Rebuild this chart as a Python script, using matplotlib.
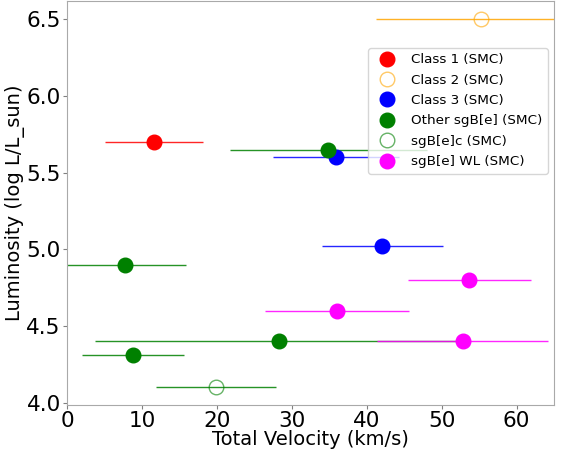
import matplotlib
matplotlib.use("Agg")
import matplotlib.pyplot as plt

# Data
class1_v = [11.6]; class1_l = [5.70]; class1_e = [6.5]
class2_v = [55.2]; class2_l = [6.50]; class2_e = [14.0]
class3_v = [35.9, 42.1]; class3_l = [5.60, 5.02]; class3_e = [8.4, 8.1]
other_v = [34.9, 7.7, 8.8, 28.3]; other_l = [5.65, 4.90, 4.31, 4.40]; other_e = [13.2, 8.2, 6.8, 24.6]
sgbc_v = [19.9]; sgbc_l = [4.10]; sgbc_e = [8.0]
wl_v = [53.7, 36.0, 52.8]; wl_l = [4.80, 4.60, 4.40]; wl_e = [8.2, 9.6, 11.4]

fig = plt.figure(figsize=(5.62, 4.49), dpi=100)
ax = fig.add_axes([67/562, 1-405/449, (554-67)/562, 404/449])

groups = [
    ("Class 1 (SMC)", class1_v, class1_l, class1_e, "red", True),
    ("Class 2 (SMC)", class2_v, class2_l, class2_e, "orange", False),
    ("Class 3 (SMC)", class3_v, class3_l, class3_e, "blue", True),
    ("Other sgB[e] (SMC)", other_v, other_l, other_e, "green", True),
    ("sgB[e]c (SMC)", sgbc_v, sgbc_l, sgbc_e, "green", False),
    ("sgB[e] WL (SMC)", wl_v, wl_l, wl_e, "magenta", True),
]

for label, v, l, e, c, filled in groups:
    ax.errorbar(v, l, xerr=e, fmt="none", ecolor=c, elinewidth=1.0, alpha=0.85, zorder=1)
    if filled:
        ax.plot(v, l, "o", color=c, markersize=10.5, linestyle="none", label=label, zorder=3)
    else:
        ax.plot(v, l, "o", markerfacecolor="none", markeredgecolor=c, markeredgewidth=1.0,
                alpha=0.6, markersize=10.5, linestyle="none", label=label, zorder=3)

ax.set_xlim(0, 65)
ax.set_ylim(3.985, 6.62)
ax.set_xticks([0, 10, 20, 30, 40, 50, 60])
ax.set_yticks([4.0, 4.5, 5.0, 5.5, 6.0, 6.5])
ax.set_xlabel("Total Velocity (km/s)", fontsize=14, labelpad=-1)
ax.set_ylabel("Luminosity (log L/L_sun)", fontsize=14, labelpad=1)
ax.tick_params(labelsize=15.5, color="gray", pad=1.5, length=3)
for s in ax.spines.values():
    s.set_color("darkgray")

ax.legend(loc="upper right", bbox_to_anchor=(0.988, 0.884), borderaxespad=0,
          fontsize=9.7, handletextpad=0.8, labelspacing=0.55)

fig.savefig("out.png", dpi=100)
